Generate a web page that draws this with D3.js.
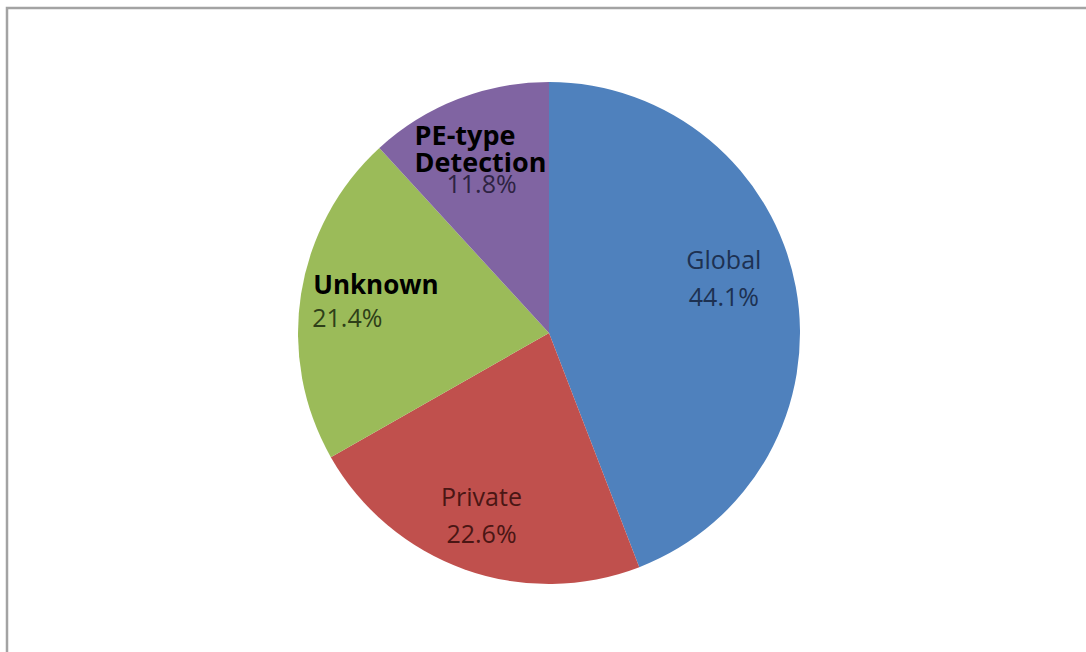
<!DOCTYPE html>
<html>
<head>
<meta charset="utf-8">
<script src="https://cdn.jsdelivr.net/npm/d3@7"></script>
<style>
  html, body { margin: 0; padding: 0; background: #ffffff; }
  svg { display: block; }
</style>
</head>
<body>
<svg id="chart" width="1086" height="652"></svg>
<script>
// Share of detections by category (percent)
const categories = ["Global", "Private", "Unknown", "PE-type Detection"];
const shares = [44.1, 22.6, 21.4, 11.8];
const shareLabels = ["44.1%", "22.6%", "21.4%", "11.8%"];
const sliceColors = ["#4f81bd", "#c0504d", "#9bbb59", "#8064a2"];
const labelInk = ["#1d3152", "#4a1614", "#2f3f18", "#2e2342"];

const W = 1086, H = 652;
const cx = 549, cy = 333, R = 251;
const labelR = 186;

const svg = d3.select("#chart");

// frame around the chart area (runs off the right and bottom edges)
svg.append("rect")
  .attr("x", 7).attr("y", 8)
  .attr("width", W + 20).attr("height", H + 20)
  .attr("fill", "#ffffff")
  .attr("stroke", "#a3a3a3")
  .attr("stroke-width", 2.5);

const data = categories.map((c, i) => ({
  name: c, value: shares[i], label: shareLabels[i],
  color: sliceColors[i], ink: labelInk[i]
}));

const pie = d3.pie().sort(null).value(d => d.value);
const arcs = pie(data);
const arc = d3.arc().innerRadius(0).outerRadius(R);
const labelArc = d3.arc().innerRadius(labelR).outerRadius(labelR);

const g = svg.append("g").attr("transform", `translate(${cx},${cy})`);

g.selectAll("path.slice")
  .data(arcs)
  .join("path")
  .attr("class", "slice")
  .attr("d", arc)
  .attr("fill", d => d.data.color);

const regularFont = "'Open Sans', 'DejaVu Sans', sans-serif";

// per-slice label placement relative to the slice centroid
const nudge = {
  "Global": { dx: -8, dy: -21 },
  "Private": { dx: -5, dy: 7 },
  "Unknown": { dx: 0, dy: 0 },
  "PE-type Detection": { dx: 0, dy: 0 }
};

arcs.forEach(a => {
  const [x, y] = labelArc.centroid(a);
  const d = a.data;
  const n = nudge[d.name];
  const lx = x + n.dx, ly = y + n.dy;

  if (d.name === "Global" || d.name === "Private") {
    // two-line category + percent label, centred on the slice
    g.append("text")
      .attr("x", lx).attr("y", ly - 9)
      .attr("text-anchor", "middle")
      .attr("font-family", regularFont)
      .attr("font-size", 25)
      .attr("fill", d.ink)
      .text(d.name);
    g.append("text")
      .attr("x", lx).attr("y", ly + 28)
      .attr("text-anchor", "middle")
      .attr("font-family", regularFont)
      .attr("font-size", 25)
      .attr("fill", d.ink)
      .text(d.label);
  } else if (d.name === "Unknown") {
    const left = lx - 52;
    g.append("text")
      .attr("x", left).attr("y", ly - 10)
      .attr("font-family", regularFont)
      .attr("font-weight", "bold")
      .attr("font-size", 26)
      .attr("fill", "#000000")
      .text("Unknown");
    g.append("text")
      .attr("x", left - 1).attr("y", ly + 23)
      .attr("font-family", regularFont)
      .attr("font-size", 25)
      .attr("fill", d.ink)
      .text(d.label);
  } else {
    const left = lx - 67;
    g.append("text")
      .attr("x", left).attr("y", ly - 15)
      .attr("font-family", regularFont)
      .attr("font-weight", "bold")
      .attr("font-size", 27)
      .attr("fill", "#000000")
      .text("PE-type");
    g.append("text")
      .attr("x", left).attr("y", ly + 12)
      .attr("font-family", regularFont)
      .attr("font-weight", "bold")
      .attr("font-size", 27)
      .attr("fill", "#000000")
      .text("Detection");
    g.append("text")
      .attr("x", lx).attr("y", ly + 33)
      .attr("text-anchor", "middle")
      .attr("font-family", regularFont)
      .attr("font-size", 25)
      .attr("fill", d.ink)
      .text(d.label);
  }
});
</script>
</body>
</html>
